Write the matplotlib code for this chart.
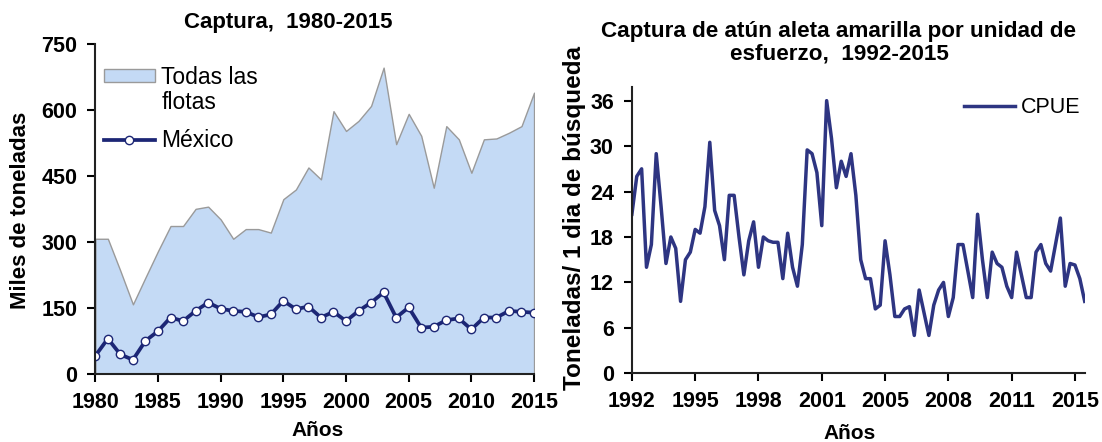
import numpy as np
import matplotlib
matplotlib.use('Agg')
import matplotlib.pyplot as plt
from matplotlib.patches import Patch
from matplotlib.lines import Line2D

plt.rcParams['font.family'] = ['Liberation Sans', 'DejaVu Sans']
plt.rcParams['font.weight'] = 'bold'

# --- left panel: catch 1980-2015 (thousand tonnes)
years = list(range(1980, 2016))
todas_flotas = [308, 308, 235, 159, 220, 280, 337, 337, 376, 381,
                352, 308, 330, 330, 322, 398, 420, 470, 443, 598,
                553, 576, 610, 697, 523, 592, 542, 424, 564, 534,
                458, 534, 536, 549, 564, 640]
mexico = [42, 81, 45, 33, 76, 98, 129, 121, 144, 163,
          149, 144, 142, 130, 136, 167, 148, 154, 129, 142,
          121, 144, 163, 186, 129, 152, 106, 108, 123, 127,
          102, 129, 129, 144, 142, 140]

# --- right panel: CPUE 1992-2015 (tonnes per search day)
cpue = [21, 26, 27, 14, 17, 29, 22, 14.5, 18, 16.5,
        9.5, 15, 16, 19, 18.5, 22, 30.5, 21.5, 19.5, 15,
        23.5, 23.5, 18, 13, 17.5, 20, 14, 18, 17.5, 17.3,
        17.3, 12.5, 18.5, 14, 11.5, 17, 29.5, 29, 26.5, 19.5,
        36, 31, 24.5, 28, 26, 29, 23.5, 15, 12.5, 12.5,
        8.5, 9, 17.5, 13, 7.5, 7.5, 8.5, 8.8, 5, 11,
        8, 5, 9, 11, 12, 7.5, 10, 17, 17, 13.5,
        10, 21, 15, 10, 16, 14.5, 14, 11.5, 10, 16,
        13, 10, 10, 16, 17, 14.5, 13.5, 17, 20.5, 11.5,
        14.5, 14.3, 12.5, 9.5]
cpue_tick_labels = ['1992', '1995', '1998', '2001', '2005', '2008', '2011', '2015']

fill_col = '#c4daf5'
navy = '#1c2675'
line_navy = '#2e3582'
fs = 15.5
leg_fs = 16.5

fig = plt.figure(figsize=(11.02, 4.42), dpi=100)

# ---------------- left
ax = fig.add_axes([0.0865, 0.1532, 0.3981, 0.7466])
ax.fill_between(years, todas_flotas, 0, facecolor=fill_col, edgecolor='#9a9a9a', lw=1)
ax.plot(years, mexico, '-', color=navy, lw=2.7, marker='o', ms=6,
        mfc='white', mec=navy, mew=1)
ax.set_xlim(1980, 2015)
ax.set_ylim(0, 750)
ax.set_xticks(range(1980, 2016, 5))
ax.set_yticks(range(0, 751, 150))
for s in ['top', 'right']:
    ax.spines[s].set_visible(False)
for s in ['left', 'bottom']:
    ax.spines[s].set_linewidth(1.5)
    ax.spines[s].set_color('#222222')
ax.tick_params(labelsize=fs, length=6, width=1.5, pad=7)
handles = [Patch(facecolor=fill_col, edgecolor='#9a9a9a'),
           Line2D([], [], color=navy, lw=2.7, marker='o', ms=6, mfc='white', mec=navy)]
leg = ax.legend(handles, ['Todas las', 'México'], loc='upper left',
                bbox_to_anchor=(0.02, 0.935), frameon=False,
                handlelength=2.2, handleheight=0.45, handletextpad=0.3,
                borderpad=0, borderaxespad=0, labelspacing=1.75,
                prop={'weight': 'normal', 'size': leg_fs})
# second line of the "Todas las flotas" label
fig.canvas.draw()
bb = leg.get_texts()[0].get_window_extent()
fig.text(bb.x0 / fig.bbox.width, (bb.y0 - 25) / fig.bbox.height, 'flotas',
         fontsize=leg_fs, fontweight='normal', ha='left', va='bottom')

fig.text(0.2614, 0.948, 'Captura,  1980-2015', ha='center', va='center', fontsize=16)
fig.text(0.019, 0.523, 'Miles de toneladas', rotation=90, ha='center', va='center', fontsize=16)
fig.text(0.2886, 0.027, 'Años', ha='center', va='center', fontsize=15)

# ---------------- right
ax2 = fig.add_axes([0.5734, 0.1554, 0.4109, 0.6477])
x = np.arange(len(cpue))
ax2.plot(x, cpue, color=line_navy, lw=2.5, label='CPUE')
ax2.set_xlim(0, len(cpue) - 1)
ax2.set_ylim(0, 37.8)
ax2.set_yticks(range(0, 37, 6))
ax2.set_xticks(np.arange(len(cpue_tick_labels)) * 13)
ax2.set_xticklabels(cpue_tick_labels)
for s in ['top', 'right']:
    ax2.spines[s].set_visible(False)
for s in ['left', 'bottom']:
    ax2.spines[s].set_linewidth(1.5)
    ax2.spines[s].set_color('#222222')
ax2.tick_params(labelsize=fs, length=6, width=1.5, pad=7)
ax2.legend(loc='upper right', bbox_to_anchor=(0.99, 0.965), frameon=False,
           handlelength=2.4, handletextpad=0.25, borderpad=0, borderaxespad=0,
           prop={'weight': 'normal', 'size': fs})

fig.text(0.7613, 0.903, 'Captura de atún aleta amarilla por unidad de\nesfuerzo,  1992-2015',
         ha='center', va='center', fontsize=16.2, linespacing=1.05)
fig.text(0.521, 0.506, 'Toneladas/ 1 dia de búsqueda', rotation=90, ha='center',
         va='center', fontsize=17.5)
fig.text(0.7713, 0.020, 'Años', ha='center', va='center', fontsize=15)

fig.savefig('out.png', dpi=100)
